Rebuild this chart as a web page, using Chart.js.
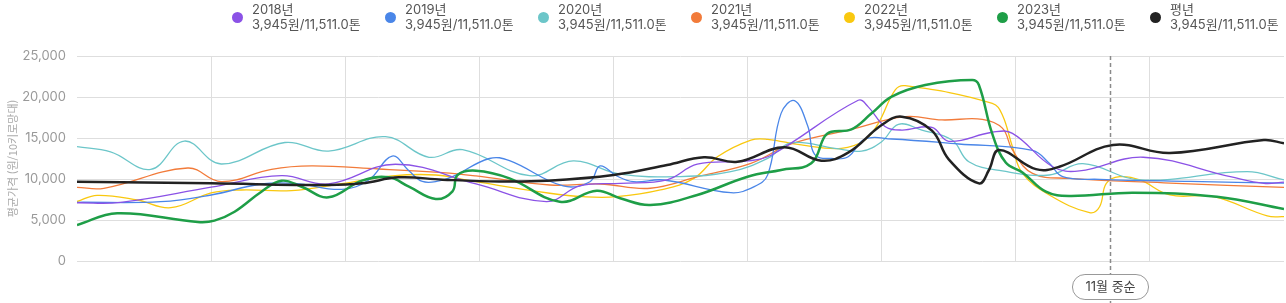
<!DOCTYPE html>
<html lang="ko">
<head>
<meta charset="utf-8">
<script src="https://cdn.jsdelivr.net/npm/chart.js@4.4.1/dist/chart.umd.min.js"></script>
<style>
  html, body { margin: 0; padding: 0; background: #fff; }
  body { width: 1286px; height: 303px; position: relative; overflow: hidden;
         font-family: Inter, "Noto Sans CJK KR", sans-serif; }
  #wrap { position: absolute; left: 0; top: 0; width: 1286px; height: 303px; }
  #legend { position: absolute; top: 2px; left: 232px; display: flex; }
  .item { width: 153px; display: flex; align-items: center; }
  .dot { width: 11px; height: 11px; border-radius: 50%; margin-right: 9px; flex: none; }
  .txt { font-size: 13px; line-height: 15px; color: #555; white-space: nowrap; }
</style>
</head>
<body>
<div id="wrap"><canvas id="priceChart" width="1286" height="303"></canvas></div>
<div id="legend"></div>
<script>
// x = ten-day period index (0 = 1월 상순), y = 원/10kg
const periods = [];
for (let m = 1; m <= 12; m++) ['상순', '중순', '하순'].forEach(p => periods.push(m + '월 ' + p));
periods.push('12월 말');

const seriesNames = ['2018년', '2019년', '2020년', '2021년', '2022년', '2023년', '평년'];
const summaries = ['3,945원/11,511.0톤', '3,945원/11,511.0톤', '3,945원/11,511.0톤', '3,945원/11,511.0톤',
                   '3,945원/11,511.0톤', '3,945원/11,511.0톤', '3,945원/11,511.0톤'];
const colors = ['#8b52e6', '#4a86e8', '#6cc6c9', '#f27b3a', '#f9c80f', '#1e9e47', '#222222'];

const y2018 = [[0,7100],[1.3,7150],[4,9000],[6.1,10400],[7.5,9400],[9.5,11800],[11.9,9400],[14,7250],[15,9150],[16.2,9470],
    [17.6,9900],[18.5,11800],[20,12200],[20.7,12900],[23.3,19600],[23.6,18800],[24.1,16400],[24.6,15970],[25.5,16300],[26,14600],
    [27.3,15700],[27.9,15570],[29.1,11500],[29.9,10980],[31.8,12650],[34.4,10280],[35.4,9470],[36,9630]];
const y2019 = [[0,7160],[2.5,7230],[4,8050],[5.5,9390],[6.5,9470],[7.9,8740],[8.7,9880],[9.4,12800],[9.9,11000],[10.3,9700],
    [10.8,9760],[11.2,10280],[12.3,12500],[12.9,12230],[14.5,9150],[15.3,9670],[15.6,11590],[16.1,10370],[16.6,9670],[17.5,9880],
    [19.5,8330],[20.2,9060],[20.6,10500],[21.0,18000],[21.4,19550],[21.8,16400],[22.0,13000],[22.5,12500],[23,12720],[23.5,14880],
    [24.3,14880],[26.3,14270],[28.5,13500],[29,11910],[29.4,10280],[30.5,9960],[33.2,9700],[36,9500]];
const y2020 = [[0,13940],[1,13300],[2.2,11180],[3.2,14630],[4.3,11830],[6.2,14450],[7.5,13410],[9.2,15160],[10.5,12650],[11.5,13570],
    [13.5,10400],[14.8,12200],[16.2,10600],[18,10300],[19.5,10890],[20.6,12520],[21.3,14400],[22.6,13740],[23.4,13410],[24,14550],
    [24.5,16670],[25.2,15970],[26.1,14750],[26.6,12110],[27.6,10980],[29,10490],[30,11870],[31.7,9880],[34.9,10890],[36,9900]];
const y2021 = [[0,8990],[0.8,8870],[3.3,11340],[4.3,9670],[5.8,11180],[7,11590],[9,11220],[10.9,10770],[11.9,10370],[14.1,9270],
    [15.6,9390],[17.1,8870],[18.6,10370],[20.1,11910],[21.3,14270],[23,15950],[24.7,17600],[25.8,17200],[27,17280],[27.6,16200],
    [27.9,13540],[28.5,10690],[29.6,10080],[32.6,9500],[36,8990]];
const y2022 = [[0,7250],[0.6,8010],[1.8,7440],[2.8,6500],[4,8300],[4.9,8660],[6.4,8580],[7.9,9430],[9.4,10380],[10.7,10490],
    [11.9,9670],[14.1,8260],[15.1,7840],[16.1,7840],[17.4,8660],[18.4,10080],[19.1,12720],[20.1,14750],[20.6,14840],[21.6,14150],
    [22.8,13740],[23.5,14750],[23.9,16790],[24.4,20850],[24.7,21380],[27.3,19230],[27.6,17800],[27.9,13940],[28.2,10690],[29,8050],
    [30.2,5900],[30.5,6620],[30.7,9470],[31.1,10280],[31.7,9880],[32.6,8050],[33.9,7840],[35.5,5500],[36,5400]];
const y2023 = [[0,4390],[1.2,5820],[3.6,4760],[4.1,4920],[4.7,6010],[5.5,8450],[6.1,9790],[6.7,9060],[7.5,7770],[8.5,9800],
    [9.3,10200],[9.9,9060],[10.7,7560],[11.2,8500],[11.35,10490],[11.9,11010],[12.9,10080],[14.4,7230],[15.5,8560],[16.2,7650],
    [17.1,6830],[18.5,8050],[20,10280],[21,11100],[21.9,11910],[22.3,15200],[22.5,15770],[23.1,16060],[23.7,18010],[24.3,20040],
    [25.3,21460],[26.7,22070],[26.9,21460],[27.3,15500],[27.7,12000],[28.2,10800],[28.9,8450],[29.6,7930],[31.5,8330],[34,7840],[36,6340]];
const yAvg = [[0,9670],[4,9470],[7.5,9270],[8.5,9470],[9.6,10200],[10.9,9920],[12.6,9700],[14,9790],[16,10490],[17.6,11710],
    [18.7,12650],[19.7,12110],[21.1,13880],[22.2,12230],[23,13210],[24,16590],[24.6,17600],[25.5,15900],[26,12400],[26.9,9470],
    [27.2,11100],[27.5,13540],[28.6,11200],[29.3,11500],[30.9,14150],[32.6,13170],[35.4,14750],[36,14350]];

const markerIndex = 30.8;
const markerLabel = '11월 중순';

const allSeries = [y2018, y2019, y2020, y2021, y2022, y2023, yAvg];

// html legend
const legendEl = document.getElementById('legend');
seriesNames.forEach((name, i) => {
    const item = document.createElement('div');
    item.className = 'item';
    item.innerHTML = '<span class="dot" style="background:' + colors[i] + '"></span>' +
        '<span class="txt">' + name + '<br>' + summaries[i] + '</span>';
    legendEl.appendChild(item);
});

const markerPlugin = {
    id: 'marker',
    afterDraw(chart) {
        const { ctx, chartArea, scales } = chart;
        const x = Math.round(scales.x.getPixelForValue(markerIndex)) + 0.5;
        ctx.save();
        ctx.strokeStyle = '#8a8a8a';
        ctx.lineWidth = 1.5;
        ctx.setLineDash([4, 3]);
        ctx.beginPath();
        ctx.moveTo(x, chartArea.top);
        ctx.lineTo(x, chart.height);
        ctx.stroke();
        ctx.setLineDash([]);
        ctx.font = '13px Inter, "Noto Sans CJK KR", sans-serif';
        const w = ctx.measureText(markerLabel).width + 26, h = 25, y = chartArea.bottom + 13.5;
        ctx.beginPath();
        ctx.roundRect(x - w / 2, y, w, h, h / 2);
        ctx.fillStyle = '#fff';
        ctx.fill();
        ctx.strokeStyle = '#999';
        ctx.lineWidth = 1;
        ctx.stroke();
        ctx.fillStyle = '#444';
        ctx.textAlign = 'center';
        ctx.textBaseline = 'middle';
        ctx.fillText(markerLabel, x, y + h / 2 + 0.5);
        ctx.restore();
    }
};

const datasets = allSeries.map((pts, i) => ({
    label: seriesNames[i],
    data: pts.map(p => ({ x: p[0], y: p[1] })),
    borderColor: colors[i],
    borderWidth: i >= 5 ? 2.5 : 1.3,
    pointRadius: 0,
    fill: false,
    tension: 0.4,
    order: i === 6 ? 0 : (i === 5 ? 1 : 2 + i)
}));

new Chart(document.getElementById('priceChart'), {
    type: 'line',
    data: { datasets },
    plugins: [markerPlugin],
    options: {
        responsive: false,
        animation: false,
        layout: { padding: { top: 56, right: 2, bottom: 42, left: 0 } },
        plugins: {
            legend: { display: false },
            tooltip: { callbacks: { title: items => periods[Math.round(items[0].parsed.x)] } }
        },
        scales: {
            x: {
                type: 'linear', min: 0, max: 36,
                ticks: { display: false, stepSize: 4 },
                grid: {
                    drawTicks: false,
                    color: c => (c.tick && (c.tick.value === 0 || c.tick.value === 36)) ? 'rgba(0,0,0,0)' : '#dedede'
                },
                border: { display: false },
                afterFit(s) { s.height = 0; }
            },
            y: {
                min: 0, max: 25000,
                ticks: {
                    stepSize: 5000, padding: 11, color: '#999',
                    font: { size: 13, family: 'Inter, "Noto Sans CJK KR", sans-serif' },
                    callback: v => v.toLocaleString('en-US')
                },
                grid: { drawTicks: false, color: '#dedede' },
                border: { display: false },
                title: {
                    display: true, text: '평균가격 (원/10키로망대)', color: '#aaa',
                    font: { size: 11, family: '"Noto Sans CJK KR", sans-serif' },
                    padding: { top: 6, bottom: 0 }
                },
                afterFit(s) { s.width = 77; }
            }
        }
    }
});
</script>
</body>
</html>
